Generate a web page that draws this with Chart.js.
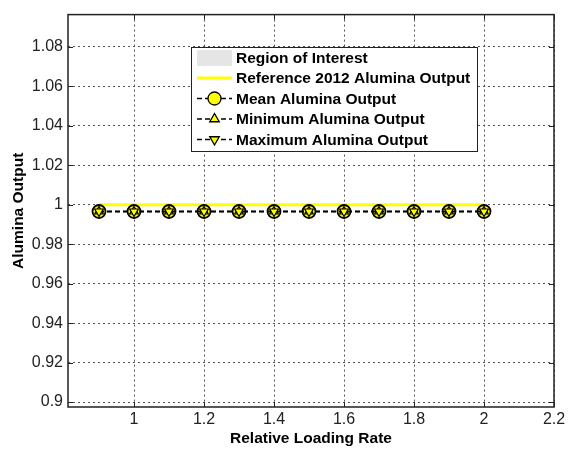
<!DOCTYPE html>
<html><head><meta charset="utf-8">
<script src="https://cdn.jsdelivr.net/npm/chart.js@4/dist/chart.umd.min.js"></script>
<style>html,body{margin:0;padding:0;background:#fff}#wrap{width:576px;height:452px}</style>
</head><body><div id="wrap"><canvas id="c" width="576" height="452"></canvas></div>
<script>
const loadingRates = [0.9, 1.0, 1.1, 1.2, 1.3, 1.4, 1.5, 1.6, 1.7, 1.8, 1.9, 2.0];
const referenceOutput = [1.0, 1.0, 1.0, 1.0, 1.0, 1.0, 1.0, 1.0, 1.0, 1.0, 1.0, 1.0];
const meanOutput = [0.9966, 0.9966, 0.9966, 0.9966, 0.9966, 0.9966, 0.9966, 0.9966, 0.9966, 0.9966, 0.9966, 0.9966];
const minOutput  = [0.9966, 0.9966, 0.9966, 0.9966, 0.9966, 0.9966, 0.9966, 0.9966, 0.9966, 0.9966, 0.9966, 0.9966];
const maxOutput  = [0.9966, 0.9966, 0.9966, 0.9966, 0.9966, 0.9966, 0.9966, 0.9966, 0.9966, 0.9966, 0.9966, 0.9966];
const xTicks = [1, 1.2, 1.4, 1.6, 1.8, 2, 2.2];
const yTicks = [0.9, 0.92, 0.94, 0.96, 0.98, 1, 1.02, 1.04, 1.06, 1.08];
const seriesNames = ['Region of Interest', 'Reference 2012 Alumina Output', 'Mean Alumina Output', 'Minimum Alumina Output', 'Maximum Alumina Output'];

const pts = arr => loadingRates.map((x, i) => ({x, y: arr[i]}));
const FONT = '"Liberation Sans", Arial, sans-serif';

const datasets = [
  {label: seriesNames[0], order: 6, data: [], backgroundColor: '#e5e5e5', borderColor: '#e5e5e5', showLine: false, pointRadius: 0},
  {label: seriesNames[1], order: 5, data: pts(referenceOutput), borderColor: '#ffff00', borderWidth: 3, showLine: true, pointRadius: 0, fill: false},
  {label: seriesNames[2], order: 3, data: pts(meanOutput), borderColor: '#000', borderWidth: 1.4, borderDash: [5, 3], showLine: true,
   pointStyle: 'circle', pointRadius: 6.5, pointBackgroundColor: '#ffff00', pointBorderColor: '#000', pointBorderWidth: 1.8},
  {label: seriesNames[3], order: 2, data: pts(minOutput), borderColor: '#000', borderWidth: 1.4, borderDash: [5, 3], showLine: true,
   pointStyle: 'triangle', pointRadius: 5, pointBackgroundColor: '#ffff00', pointBorderColor: '#000', pointBorderWidth: 1.2},
  {label: seriesNames[4], order: 1, data: pts(maxOutput), borderColor: '#000', borderWidth: 1.4, borderDash: [5, 3], showLine: true,
   pointStyle: 'triangle', rotation: 180, pointRadius: 5, pointBackgroundColor: '#ffff00', pointBorderColor: '#000', pointBorderWidth: 1.2}
];

const framePlugin = {
  id: 'frame',
  afterDraw(chart) {
    const ctx = chart.ctx, a = chart.chartArea;
    const xs = chart.scales.x, ys = chart.scales.y;
    ctx.save();
    ctx.strokeStyle = '#222'; ctx.lineWidth = 1;
    ctx.beginPath();
    xTicks.forEach(t => { const px = Math.round(xs.getPixelForValue(t)) + 0.5;
      ctx.moveTo(px, a.bottom); ctx.lineTo(px, a.bottom - 5);
      ctx.moveTo(px, a.top); ctx.lineTo(px, a.top + 5); });
    yTicks.forEach(t => { const py = Math.round(ys.getPixelForValue(t)) + 0.5;
      ctx.moveTo(a.left, py); ctx.lineTo(a.left + 5, py);
      ctx.moveTo(a.right, py); ctx.lineTo(a.right - 5, py); });
    ctx.stroke();
    ctx.lineWidth = 1.5;
    ctx.strokeStyle = '#222';
    ctx.strokeRect(a.left, a.top, a.right - a.left, a.bottom - a.top);

    // legend
    const L = 191, T = 47, W = 286, H = 104;
    ctx.fillStyle = '#fff';
    ctx.fillRect(L, T, W, H);
    ctx.strokeStyle = '#222'; ctx.lineWidth = 1;
    ctx.strokeRect(L + 0.5, T + 0.5, W, H);
    const rowY = [58, 78, 98.5, 119, 139.5];
    const sx0 = 197, sx1 = 232, cx = 214.5;
    ctx.font = 'bold 15.5px ' + FONT;
    ctx.textBaseline = 'middle';
    ctx.textAlign = 'left';
    chart.data.datasets.forEach((ds, i) => {
      const y = rowY[i];
      if (i === 0) {
        ctx.fillStyle = '#e5e5e5';
        ctx.fillRect(sx0, y - 8, sx1 - sx0, 16);
      } else if (i === 1) {
        ctx.strokeStyle = '#ffff00'; ctx.lineWidth = 3;
        ctx.beginPath(); ctx.moveTo(sx0, y); ctx.lineTo(sx1, y); ctx.stroke();
      } else {
        ctx.strokeStyle = '#000'; ctx.lineWidth = 1.3; ctx.setLineDash([5, 3]);
        ctx.beginPath(); ctx.moveTo(sx0, y); ctx.lineTo(sx1, y); ctx.stroke();
        ctx.setLineDash([]);
        ctx.fillStyle = '#ffff00'; ctx.strokeStyle = '#000'; ctx.lineWidth = 1.3;
        Chart.helpers.drawPoint(ctx, {pointStyle: ds.pointStyle, radius: i === 2 ? 6.5 : 5.5, rotation: ds.rotation || 0, borderWidth: 1.3}, cx, y);
      }
      ctx.fillStyle = '#000';
      ctx.fillText(ds.label, 236, y + 1);
    });
    ctx.restore();
  }
};

new Chart(document.getElementById('c'), {
  type: 'scatter',
  data: {datasets},
  options: {
    responsive: false, animation: false, devicePixelRatio: 1,
    layout: {padding: {top: 7, right: 22, left: 0, bottom: 0}},
    plugins: {legend: {display: false}, tooltip: {enabled: false}},
    scales: {
      x: {
        type: 'linear', min: 0.8114, max: 2.2,
        afterBuildTicks: s => { s.ticks = xTicks.map(v => ({value: v})); },
        afterFit: s => { s.height = 45; },
        ticks: {color: '#222', font: {family: FONT, size: 16}, padding: 3, callback: v => String(v)},
        grid: {color: '#555', lineWidth: 1, drawTicks: false, tickLength: 0},
        border: {display: false, dash: [2, 3]},
        title: {display: true, text: 'Relative Loading Rate', color: '#000', font: {family: FONT, size: 15.5, weight: 'bold'}, padding: {top: 2, bottom: 4}}
      },
      y: {
        type: 'linear', min: 0.8975, max: 1.0964,
        afterBuildTicks: s => { s.ticks = yTicks.map(v => ({value: v})); },
        afterFit: s => { s.width = 68; },
        ticks: {color: '#222', font: {family: FONT, size: 16}, padding: 5, callback: v => String(Math.round(v * 100) / 100)},
        grid: {color: '#555', lineWidth: 1, drawTicks: false, tickLength: 0},
        border: {display: false, dash: [2, 3]},
        title: {display: true, text: 'Alumina Output', color: '#000', font: {family: FONT, size: 15.5, weight: 'bold'}, padding: {top: 9, bottom: 4}}
      }
    }
  },
  plugins: [framePlugin]
});
</script>
</body></html>
